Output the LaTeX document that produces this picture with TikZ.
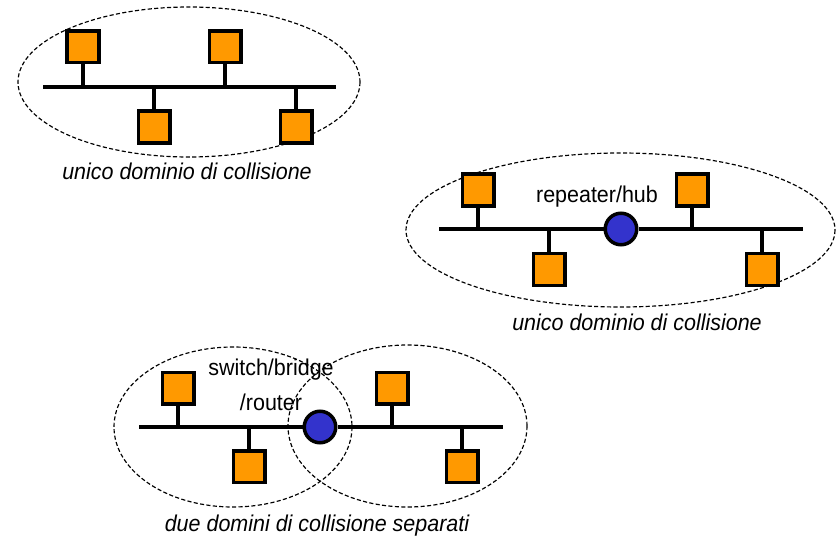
\documentclass[tikz,border=0pt]{standalone}
\usepackage{fontspec}
\setmainfont[FakeStretch=0.94]{Liberation Sans}
\definecolor{stationorange}{HTML}{FF9900}
\definecolor{hubblue}{HTML}{3333CC}
\tikzset{
  station/.style={draw, fill=stationorange, line width=0.105cm, minimum size=0.945cm, inner sep=0pt},
  hub/.style={circle, draw, fill=hubblue, line width=0.105cm, minimum size=0.945cm, inner sep=0pt},
  bus/.style={line width=0.105cm},
  collzone/.style={line width=1pt, dash pattern=on 3.5pt off 2pt},
  caption/.style={font=\fontsize{19.5}{22}\selectfont\itshape},
  devlabel/.style={font=\fontsize{19.5}{22}\selectfont}
}
\begin{document}
\begin{tikzpicture}[x=0.03cm, y=-0.03cm]
        \useasboundingbox (0,0) rectangle (836,538);

        % Segment A: one bus, no device
        \draw[collzone] (189,82) ellipse [x radius=171, y radius=75];
        \coordinate (aL) at (43,87);
        \coordinate (aR) at (336,87);
        \draw[bus] (aL) -- (aR);
        \node[station] (a1) at (83,47) {};
        \node[station] (a2) at (225,47) {};
        \node[station] (a3) at (154,127) {};
        \node[station] (a4) at (296,127) {};
        \draw[bus] (a1) -- (a1 |- aL);
        \draw[bus] (a2) -- (a2 |- aL);
        \draw[bus] (a3) -- (a3 |- aL);
        \draw[bus] (a4) -- (a4 |- aL);
        \node[caption] (capA) at (187,171) {unico dominio di collisione};

        % Segment B: repeater/hub
        \draw[collzone] (620.5,230) ellipse [x radius=214.5, y radius=77];
        \coordinate (bL) at (439,229);
        \coordinate (bR) at (803,229);
        \node[hub] (hubB) at (621,229) {};
        \draw[bus] (bL) -- (hubB) -- (bR);
        \node[station] (b1) at (478,190) {};
        \node[station] (b2) at (549,269.5) {};
        \node[station] (b3) at (692,190) {};
        \node[station] (b4) at (762,269.5) {};
        \draw[bus] (b1) -- (b1 |- bL);
        \draw[bus] (b2) -- (b2 |- bL);
        \draw[bus] (b3) -- (b3 |- bL);
        \draw[bus] (b4) -- (b4 |- bL);
        \node[devlabel] (hubBlabel) at (597,197) {repeater/hub};
        \node[caption] (capB) at (637,322) {unico dominio di collisione};

        % Segment C: switch/bridge/router splits the domain
        \draw[collzone] (233,427) ellipse [x radius=119, y radius=80];
        \draw[collzone] (407.5,426) ellipse [x radius=119.5, y radius=81];
        \coordinate (cL) at (139,427);
        \coordinate (cR) at (503,427);
        \node[hub] (swC) at (320,427) {};
        \draw[bus] (cL) -- (swC) -- (cR);
        \node[station] (c1) at (178,388) {};
        \node[station] (c2) at (249,466.5) {};
        \node[station] (c3) at (392,388) {};
        \node[station] (c4) at (462,466.5) {};
        \draw[bus] (c1) -- (c1 |- cL);
        \draw[bus] (c2) -- (c2 |- cL);
        \draw[bus] (c3) -- (c3 |- cL);
        \draw[bus] (c4) -- (c4 |- cL);
        \node[devlabel, align=center, font=\fontsize{19.5}{30}\selectfont] (swClabel) at (271,385) {switch/bridge\\/router};
        \node[caption] (capC) at (317,526) {due domini di collisione separati};
    \end{tikzpicture}
\end{document}
